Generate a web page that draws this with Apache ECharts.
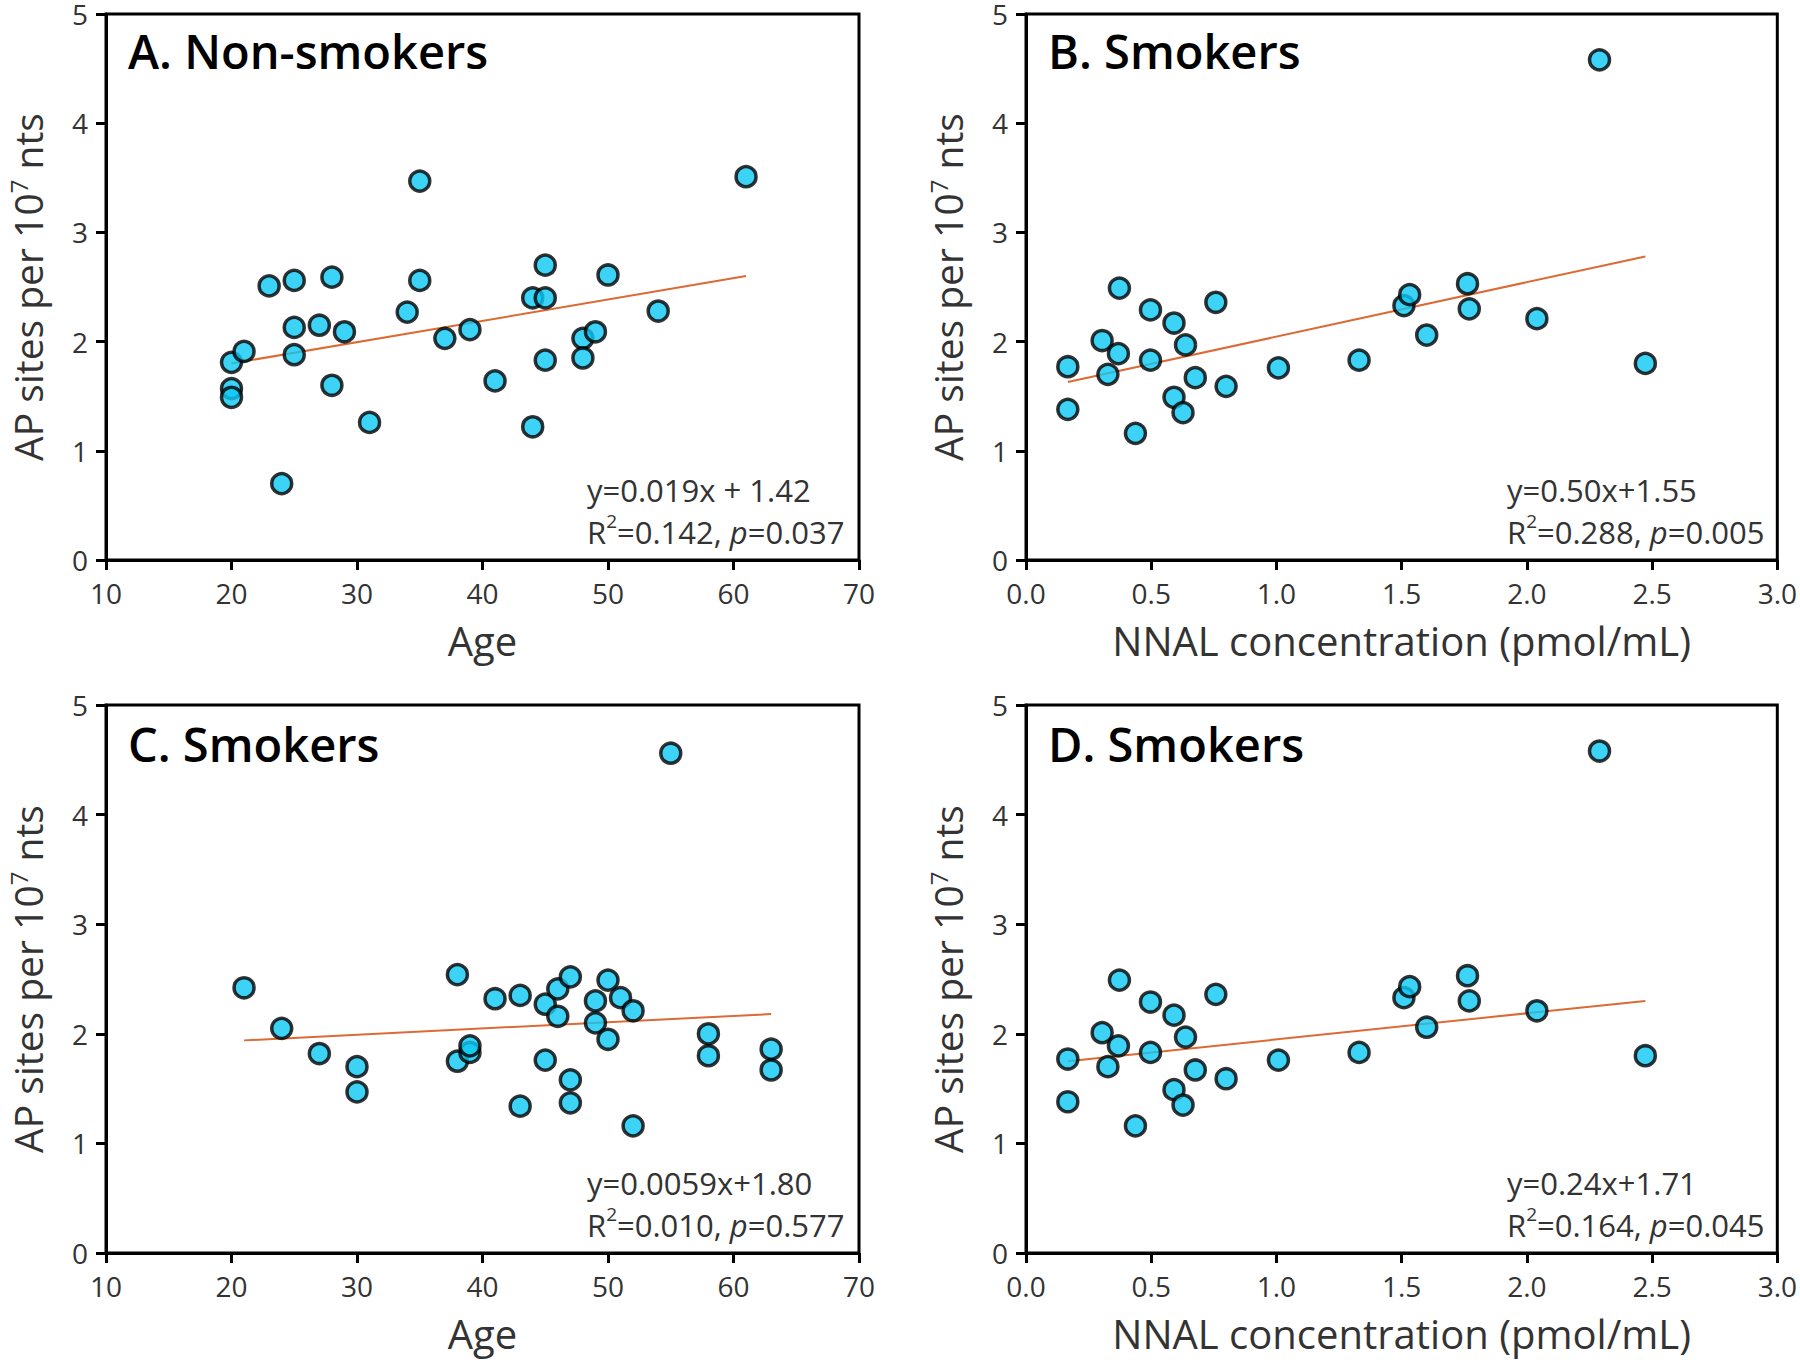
<!DOCTYPE html>
<html>
<head>
<meta charset="utf-8">
<script src="https://cdn.jsdelivr.net/npm/echarts@6.0.0/dist/echarts.min.js"></script>
<style>
html, body { margin: 0; background: #fff; }
#chart { width: 1800px; height: 1360px; }
</style>
</head>
<body>
<div id="chart"></div>
<script>
// A. non-smokers: age vs AP sites
var ageNon = [20, 20, 20, 21, 23, 24, 25, 25, 25, 27, 28, 28, 29, 31, 34, 35, 35, 37, 39, 41, 44, 44, 45, 45, 45, 48, 48, 49, 50, 54, 61];
var apNon = [1.81, 1.57, 1.49, 1.91, 2.51, 0.70, 2.56, 2.13, 1.88, 2.15, 2.59, 1.60, 2.09, 1.26, 2.27, 3.47, 2.56, 2.03, 2.11, 1.64, 2.40, 1.22, 2.70, 2.40, 1.83, 2.03, 1.85, 2.09, 2.61, 2.28, 3.51];

// B / D. smokers: NNAL vs AP sites
var nnal = [0.167, 0.167, 0.304, 0.327, 0.369, 0.373, 0.437, 0.497, 0.497, 0.591, 0.591, 0.627, 0.637, 0.676, 0.758, 0.799, 1.008, 1.330, 1.509, 1.532, 1.60, 1.763, 1.770, 2.040, 2.290, 2.473];
var apNnal = [1.77, 1.38, 2.01, 1.70, 1.89, 2.49, 1.16, 2.29, 1.83, 2.17, 1.49, 1.35, 1.97, 1.67, 2.36, 1.59, 1.76, 1.83, 2.33, 2.43, 2.06, 2.53, 2.30, 2.21, 4.58, 1.80];

// C. smokers: age vs AP sites
var ageSmk = [21, 24, 27, 30, 30, 38, 38, 39, 39, 41, 43, 43, 45, 45, 46, 46, 47, 47, 47, 49, 49, 50, 50, 51, 52, 52, 55, 58, 58, 63, 63];
var apSmk = [2.42, 2.05, 1.82, 1.70, 1.47, 2.54, 1.75, 1.83, 1.89, 2.32, 2.35, 1.34, 2.27, 1.76, 2.41, 2.16, 2.52, 1.58, 1.37, 2.30, 2.10, 2.49, 1.95, 2.33, 2.21, 1.16, 4.56, 2.00, 1.80, 1.86, 1.67];

// regression line end points
var fitA = [[20, 1.80], [61, 2.60]];
var fitB = [[0.167, 1.63], [2.473, 2.78]];
var fitC = [[21, 1.94], [63, 2.18]];
var fitD = [[0.167, 1.75], [2.473, 2.30]];

var panelTitles = ['A. Non-smokers', 'B. Smokers', 'C. Smokers', 'D. Smokers'];
var fitText = [
    ['y=0.019x + 1.42', '0.142', '0.037'],
    ['y=0.50x+1.55', '0.288', '0.005'],
    ['y=0.0059x+1.80', '0.010', '0.577'],
    ['y=0.24x+1.71', '0.164', '0.045']
];

var FONT = '"Open Sans", "Noto Sans", sans-serif';

function zip(xs, ys) {
    return xs.map(function (x, i) { return [x, ys[i]]; });
}

var gridPos = [
    { left: 106, top: 12 },
    { left: 1026, top: 12 },
    { left: 106, top: 705 },
    { left: 1026, top: 705 }
];

var grids = gridPos.map(function (p) {
    return {
        left: p.left, top: p.top, width: 753, height: 548,
        show: true, borderColor: '#000', borderWidth: 3, backgroundColor: '#fff'
    };
});

function xAxisFor(i) {
    var isAge = (i === 0 || i === 2);
    return {
        type: 'value',
        gridIndex: i,
        min: isAge ? 10 : 0,
        max: isAge ? 70 : 3,
        interval: isAge ? 10 : 0.5,
        name: isAge ? 'Age' : 'NNAL concentration (pmol/mL)',
        nameLocation: 'middle',
        nameGap: 60,
        nameTextStyle: { fontFamily: FONT, fontSize: 40, color: '#333' },
        axisLine: { show: true, onZero: false, lineStyle: { color: '#000', width: 3 } },
        axisTick: { show: true, inside: false, length: 10, lineStyle: { color: '#000', width: 3 } },
        axisLabel: {
            fontFamily: FONT, fontSize: 28, color: '#333', margin: 19,
            formatter: function (v) { return isAge ? String(v) : v.toFixed(1); }
        },
        splitLine: { show: false }
    };
}

function yAxisFor(i) {
    return {
        type: 'value',
        gridIndex: i,
        min: 0, max: 5, interval: 1,
        name: 'AP sites per 10{sup|7} nts',
        nameLocation: 'middle',
        nameGap: 58,
        nameTextStyle: {
            fontFamily: FONT, fontSize: 39, color: '#333',
            rich: { sup: { fontFamily: FONT, fontSize: 24, color: '#333', verticalAlign: 'top', padding: [0, 0, 18, 0] } }
        },
        axisLine: { show: true, onZero: false, lineStyle: { color: '#000', width: 3 } },
        axisTick: { show: true, inside: false, length: 10, lineStyle: { color: '#000', width: 3 } },
        axisLabel: { fontFamily: FONT, fontSize: 28, color: '#333', margin: 18, lineHeight: 22 },
        splitLine: { show: false }
    };
}

var titles = [];
panelTitles.forEach(function (t, i) {
    titles.push({
        text: t,
        left: gridPos[i].left + 22,
        top: gridPos[i].top + 15,
        padding: 0,
        textStyle: { fontFamily: FONT, fontSize: 47, fontWeight: 600, color: '#000' }
    });
});
fitText.forEach(function (f, i) {
    titles.push({
        text: f[0] + '\n{r|R}{s|2}{r|=' + f[1] + ', }{i|p}{r|=' + f[2] + '}',
        left: gridPos[i].left + 481,
        top: gridPos[i].top + 457,
        padding: 0,
        textStyle: {
            fontFamily: FONT, fontSize: 31, fontWeight: 'normal', color: '#333', lineHeight: 42,
            rich: {
                r: { fontFamily: FONT, fontSize: 31, color: '#333', lineHeight: 42 },
                s: { fontFamily: FONT, fontSize: 19, color: '#333', verticalAlign: 'top', padding: [0, 0, 14, 0] },
                i: { fontFamily: FONT, fontSize: 31, color: '#333', fontStyle: 'italic', lineHeight: 42 }
            }
        }
    });
});

var scatterStyle = {
    color: '#0CC8F4',
    borderColor: '#000',
    borderWidth: 3.5
};

function scatter(i, data) {
    return {
        type: 'scatter', xAxisIndex: i, yAxisIndex: i,
        data: data, symbolSize: 20, itemStyle: scatterStyle, z: 3
    };
}
function fitLine(i, data) {
    return {
        type: 'line', xAxisIndex: i, yAxisIndex: i,
        data: data, symbol: 'none', z: 2,
        lineStyle: { color: '#DC6A35', width: 2 }
    };
}

var chart = echarts.init(document.getElementById('chart'), null, { renderer: 'svg' });
chart.setOption({
    backgroundColor: '#fff',
    animation: false,
    title: titles,
    grid: grids,
    xAxis: [0, 1, 2, 3].map(xAxisFor),
    yAxis: [0, 1, 2, 3].map(yAxisFor),
    series: [
        fitLine(0, fitA), scatter(0, zip(ageNon, apNon)),
        fitLine(1, fitB), scatter(1, zip(nnal, apNnal)),
        fitLine(2, fitC), scatter(2, zip(ageSmk, apSmk)),
        fitLine(3, fitD), scatter(3, zip(nnal, apNnal))
    ]
});
</script>
</body>
</html>
